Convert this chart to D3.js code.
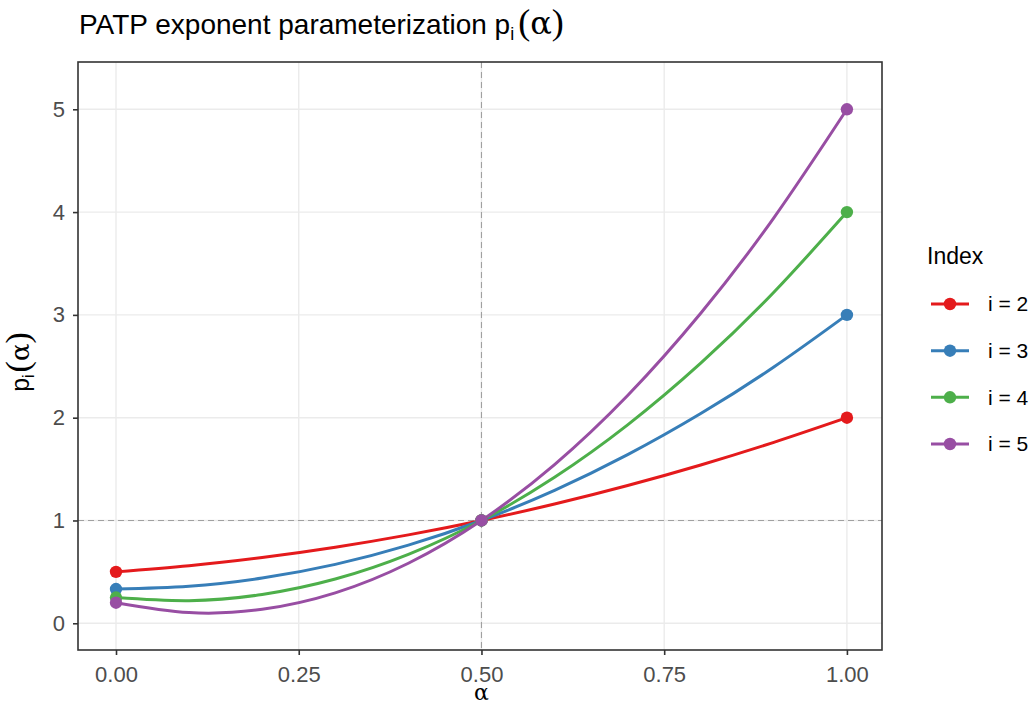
<!DOCTYPE html>
<html>
<head>
<meta charset="utf-8">
<script src="https://cdn.jsdelivr.net/npm/d3@7"></script>
<style>
  html, body { margin: 0; padding: 0; background: #fff; }
  svg { display: block; }
  text { font-family: "Liberation Sans", Arial, Helvetica, sans-serif; }
  .paren { font-family: "Liberation Serif", "DejaVu Serif", serif; }
  .greek { font-family: "DejaVu Serif", "Liberation Serif", serif; }
</style>
</head>
<body>
<svg id="chart" width="1032" height="707"></svg>
<script>
// alpha grid and the exponent p_i(alpha) for each index i
const alphas = [0, 0.1, 0.2, 0.3, 0.4, 0.5, 0.6, 0.7, 0.8, 0.9, 1.0];
const p2 = [0.5, 0.56, 0.64, 0.74, 0.86, 1.0, 1.16, 1.34, 1.54, 1.76, 2.0];
const p3 = [0.333, 0.36, 0.44, 0.573, 0.76, 1.0, 1.293, 1.64, 2.04, 2.493, 3.0];
const p4 = [0.25, 0.22, 0.28, 0.43, 0.67, 1.0, 1.42, 1.93, 2.53, 3.22, 4.0];
const p5 = [0.2, 0.104, 0.136, 0.296, 0.584, 1.0, 1.544, 2.216, 3.016, 3.944, 5.0];
const markerAlphas = [0, 0.5, 1];
const seriesLabels = ["i = 2", "i = 3", "i = 4", "i = 5"];
const seriesColors = ["#E41A1C", "#377EB8", "#4DAF4A", "#984EA3"];
const xTicks = [0, 0.25, 0.5, 0.75, 1];
const yTicks = [0, 1, 2, 3, 4, 5];

const seriesValues = [p2, p3, p4, p5];
const series = seriesValues.map((vals, k) => ({
  label: seriesLabels[k],
  color: seriesColors[k],
  points: alphas.map((a, j) => ({ a, v: vals[j] }))
}));

const svg = d3.select("#chart");
const panel = { left: 78, right: 882, top: 62, bottom: 650 };

const x = d3.scaleLinear().domain([-0.052, 1.048]).range([panel.left, panel.right]);
const y = d3.scaleLinear().domain([-0.26, 5.46]).range([panel.bottom, panel.top]);

// panel background + grid
const g = svg.append("g");
g.append("rect")
  .attr("x", panel.left).attr("y", panel.top)
  .attr("width", panel.right - panel.left).attr("height", panel.bottom - panel.top)
  .attr("fill", "#fff");

g.selectAll(".gx").data(xTicks).enter().append("line")
  .attr("x1", d => x(d)).attr("x2", d => x(d))
  .attr("y1", panel.top).attr("y2", panel.bottom)
  .attr("stroke", "#ebebeb").attr("stroke-width", 1.4);
g.selectAll(".gy").data(yTicks).enter().append("line")
  .attr("x1", panel.left).attr("x2", panel.right)
  .attr("y1", d => y(d)).attr("y2", d => y(d))
  .attr("stroke", "#ebebeb").attr("stroke-width", 1.4);

// reference lines at p = 1 and alpha = 0.5
g.append("line")
  .attr("x1", panel.left).attr("x2", panel.right)
  .attr("y1", y(1)).attr("y2", y(1))
  .attr("stroke", "#a0a0a0").attr("stroke-width", 1.1).attr("stroke-dasharray", "6,4");
g.append("line")
  .attr("x1", x(0.5)).attr("x2", x(0.5))
  .attr("y1", panel.top).attr("y2", panel.bottom)
  .attr("stroke", "#a0a0a0").attr("stroke-width", 1.1).attr("stroke-dasharray", "6,4");

// curves
const line = d3.line()
  .x(d => x(d.a)).y(d => y(d.v))
  .curve(d3.curveNatural);

const clipId = "panel-clip";
svg.append("clipPath").attr("id", clipId).append("rect")
  .attr("x", panel.left).attr("y", panel.top)
  .attr("width", panel.right - panel.left).attr("height", panel.bottom - panel.top);

const marks = svg.append("g").attr("clip-path", `url(#${clipId})`);
series.forEach(s => {
  marks.append("path")
    .datum(s.points)
    .attr("d", line)
    .attr("fill", "none")
    .attr("stroke", s.color)
    .attr("stroke-width", 3)
    .attr("stroke-linejoin", "round")
    .attr("stroke-linecap", "butt");
});
series.forEach(s => {
  marks.selectAll(null)
    .data(s.points.filter(p => markerAlphas.includes(p.a)))
    .enter().append("circle")
    .attr("cx", d => x(d.a)).attr("cy", d => y(d.v))
    .attr("r", 6.2)
    .attr("fill", s.color);
});

// panel border
svg.append("rect")
  .attr("x", panel.left).attr("y", panel.top)
  .attr("width", panel.right - panel.left).attr("height", panel.bottom - panel.top)
  .attr("fill", "none").attr("stroke", "#333333").attr("stroke-width", 1.6);

// axes
const xAxis = svg.append("g")
  .attr("transform", `translate(0,${panel.bottom})`)
  .call(d3.axisBottom(x).tickValues(xTicks).tickFormat(d3.format(".2f")).tickSize(5).tickPadding(11));
const yAxis = svg.append("g")
  .attr("transform", `translate(${panel.left},0)`)
  .call(d3.axisLeft(y).tickValues(yTicks).tickFormat(d3.format("d")).tickSize(5).tickPadding(8));

[xAxis, yAxis].forEach(ax => {
  ax.select(".domain").remove();
  ax.selectAll(".tick line").attr("stroke", "#333333").attr("stroke-width", 1.6);
  ax.selectAll(".tick text")
    .attr("fill", "#4d4d4d")
    .style("font-size", "22px")
    .style("font-family", "'Liberation Sans', Arial, sans-serif");
});

// math label p_i(alpha) built from tspans
function mathLabel(sel, sub, paren, greek, shift, gap) {
  sel.append("tspan").text("p");
  sel.append("tspan").attr("dy", shift).style("font-size", sub + "px").text("i");
  sel.append("tspan").attr("dy", -shift).attr("dx", gap).attr("class", "paren").style("font-size", paren + "px").text("(");
  sel.append("tspan").attr("class", "greek").style("font-size", greek + "px").text("α");
  sel.append("tspan").attr("class", "paren").style("font-size", paren + "px").text(")");
}

// title
const title = svg.append("text")
  .attr("x", 79).attr("y", 34)
  .attr("fill", "#000")
  .style("font-size", "28px");
title.append("tspan").text("PATP exponent parameterization ");
mathLabel(title, 18, 36, 32, 6, 4);

// x axis title
svg.append("text")
  .attr("class", "greek")
  .attr("x", x(0.5)).attr("y", 700)
  .attr("text-anchor", "middle")
  .attr("fill", "#000")
  .style("font-size", "22px")
  .text("α");

// y axis title
const yt = svg.append("text")
  .attr("transform", `translate(29,${(panel.top + panel.bottom) / 2 + 6}) rotate(-90)`)
  .attr("text-anchor", "middle")
  .attr("fill", "#000")
  .style("font-size", "25px");
mathLabel(yt, 16, 34, 26, 5, 2);

// legend
const legend = svg.append("g");
legend.append("text")
  .attr("x", 927).attr("y", 264)
  .attr("fill", "#000")
  .style("font-size", "23px")
  .text("Index");
const keyY = [304, 350.7, 397.3, 444];
series.forEach((s, k) => {
  const ky = keyY[k];
  legend.append("line")
    .attr("x1", 931).attr("x2", 969)
    .attr("y1", ky).attr("y2", ky)
    .attr("stroke", s.color).attr("stroke-width", 3);
  legend.append("circle")
    .attr("cx", 950).attr("cy", ky).attr("r", 6.2)
    .attr("fill", s.color);
  legend.append("text")
    .attr("x", 988).attr("y", ky)
    .attr("dy", "0.35em")
    .attr("fill", "#000")
    .style("font-size", "21px")
    .text(s.label);
});
</script>
</body>
</html>
